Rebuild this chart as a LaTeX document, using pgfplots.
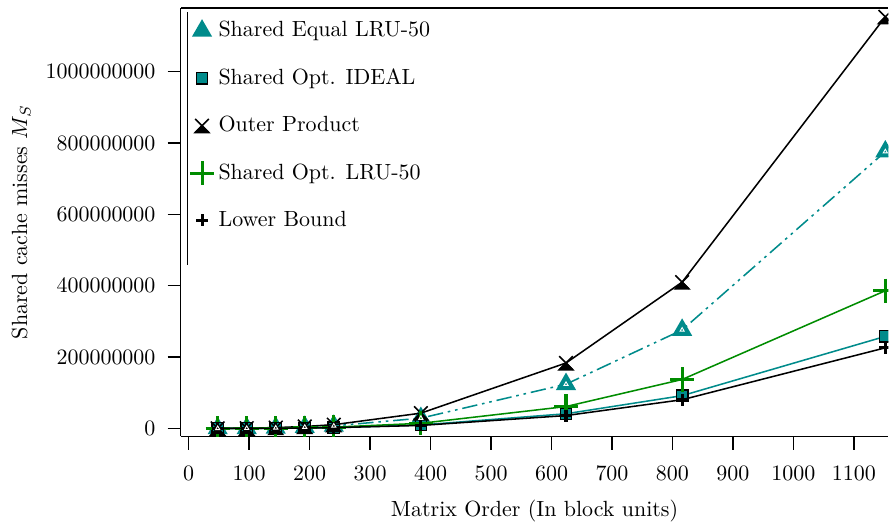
\documentclass[border=0pt]{standalone}
\usepackage{pgfplots}
\pgfplotsset{compat=1.18}
\definecolor{tealc}{RGB}{0,139,139}
\definecolor{greenc}{RGB}{0,140,0}
\pgfdeclareplotmark{xtri}{%
  \pgfpathmoveto{\pgfqpoint{-\pgfplotmarksize}{\pgfplotmarksize}}%
  \pgfpathlineto{\pgfqpoint{\pgfplotmarksize}{-\pgfplotmarksize}}%
  \pgfpathmoveto{\pgfqpoint{\pgfplotmarksize}{\pgfplotmarksize}}%
  \pgfpathlineto{\pgfqpoint{-\pgfplotmarksize}{-\pgfplotmarksize}}%
  \pgfusepathqstroke
  \pgfpathmoveto{\pgfqpoint{0pt}{0pt}}%
  \pgfpathlineto{\pgfqpoint{\pgfplotmarksize}{-\pgfplotmarksize}}%
  \pgfpathlineto{\pgfqpoint{-\pgfplotmarksize}{-\pgfplotmarksize}}%
  \pgfpathclose
  \pgfusepathqfillstroke
}
\pgfplotstableread{
x y
48 56000
96 449000
144 1516000
192 3593000
240 7017000
384 28740000
624 124000000
816 276000000
1152 776000000
}\equaltab
\begin{document}
\begin{tikzpicture}
\begin{axis}[
  name=ax,
  scale only axis, width=322pt, height=195pt,
  xmin=-13, xmax=1157, ymin=-22.4e6, ymax=1179e6,
  axis x line*=bottom, axis y line*=left,
  axis line style={line width=0.6pt},
  tick align=outside, major tick length=6pt,
  tick style={black, line width=0.6pt},
  xtick={0,100,...,1100},
  ytick={0,200000000,400000000,600000000,800000000,1000000000},
  scaled y ticks=false, scaled x ticks=false,
  yticklabel style={/pgf/number format/fixed, /pgf/number format/1000 sep={}, xshift=-2pt},
  xticklabel style={/pgf/number format/1000 sep={}, yshift=-4pt},
  xlabel={Matrix Order (In block units)},
  xlabel style={yshift=-2pt},
  ylabel={Shared cache misses $M_S$},
  clip marker paths=true,
  legend cell align=left,
  legend style={at={(0.003,0.99)}, anchor=north west, draw=none, fill=none,
    row sep=9pt, font=\normalsize},
  legend image code/.code={\draw[#1] plot[only marks] coordinates {(0.15cm,0cm)}; \path (0,0) (0.32cm,0);},
]
\addplot[tealc, line width=0.7pt, dash pattern=on 7pt off 2.2pt on 1.2pt off 2.2pt on 1.2pt off 2.2pt,
  mark=triangle*, mark size=4.6pt, mark options={solid, fill=tealc, draw=tealc}]
  table {\equaltab};
\addlegendentry{Shared Equal LRU-50}
\addplot[tealc, line width=0.7pt, mark=square*, mark size=2.6pt,
  mark options={fill=tealc, draw=black, line width=0.6pt}]
  coordinates {(48,18700) (96,150000) (144,505000) (192,1196000) (240,2340000)
   (384,9570000) (624,41100000) (816,91800000) (1152,258000000)};
\addlegendentry{Shared Opt. IDEAL}
\addplot[black, line width=0.7pt, mark=xtri, mark size=3.1pt,
  mark options={fill=black}]
  coordinates {(48,83500) (96,668000) (144,2254000) (192,5344000) (240,10440000)
   (384,42750000) (624,183400000) (816,410200000) (1152,1154000000)};
\addlegendentry{Outer Product}
\addplot[greenc, line width=0.7pt, mark=+, mark size=5.5pt,
  mark options={line width=1.4pt}]
  coordinates {(48,28000) (96,223000) (144,754000) (192,1787000) (240,3490000)
   (384,14300000) (624,61300000) (816,137200000) (1152,386000000)};
\addlegendentry{Shared Opt. LRU-50}
\addplot[black, line width=0.7pt, mark=+, mark size=2.7pt,
  mark options={line width=1.4pt}]
  coordinates {(48,16400) (96,131000) (144,442000) (192,1048000) (240,2050000)
   (384,8380000) (624,36000000) (816,80400000) (1152,226000000)};
\addlegendentry{Lower Bound}
\addplot[only marks, white, mark=triangle, mark size=1.1pt, mark options={line width=0.4pt}, forget plot]
  table {\equaltab};
\end{axis}
\draw[line width=0.6pt] (ax.north west) -- (ax.north east);
\draw[line width=0.6pt] ([xshift=3pt,yshift=-2pt]ax.north west) -- ([xshift=3pt,yshift=-117pt]ax.north west);
\path ([yshift=3.6pt]ax.north west) ([xshift=-2pt]ax.outer west);
\end{tikzpicture}
\end{document}
